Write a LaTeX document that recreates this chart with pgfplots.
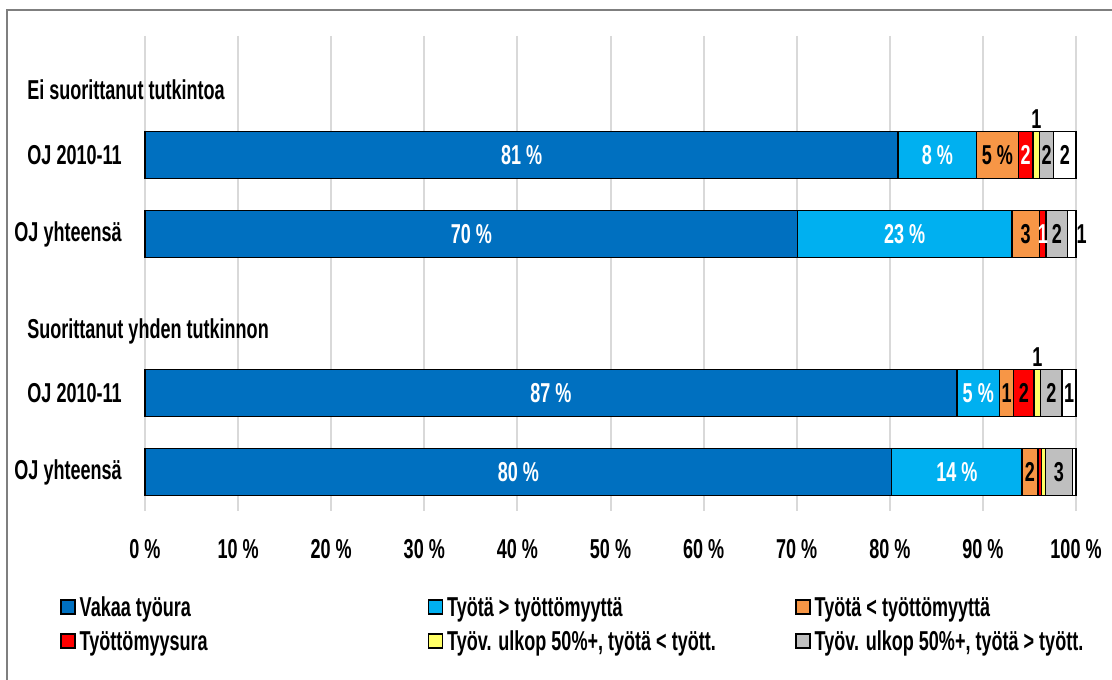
\documentclass[border=0pt]{standalone}
\usepackage{fontspec}
\setmainfont{Liberation Sans}[FakeStretch=0.66]
\usepackage{pgfplots}
\usepackage{pgfplotstable}
\pgfplotsset{compat=1.18}
\definecolor{cDB}{HTML}{0070C0}
\definecolor{cLB}{HTML}{00B0F0}
\definecolor{cOR}{HTML}{F79646}
\definecolor{cRD}{HTML}{FF0000}
\definecolor{cYE}{HTML}{FFFF66}
\definecolor{cGR}{HTML}{BFBFBF}
\definecolor{gridc}{HTML}{D9D9D9}
\definecolor{framec}{HTML}{7F7F7F}
\newcommand\chartfont{\fontsize{20.5pt}{24pt}\selectfont\bfseries}

\pgfplotstableread{
y vak ylt alt tu ye gr wh
155 80.9 8.4 4.5 1.6 0.7 1.5 2.4
234 70.1 23.0 3.0 0.7 0.0 2.3 0.9
393 87.2 4.6 1.5 2.2 0.7 2.3 1.5
472 80.2 14.0 1.7 0.4 0.4 2.9 0.4
}\data

\pgfplotstableread[col sep=comma,row sep=\\]{
x,y,label\\
40.45,155,81 \%\\
85.1,155,8 \%\\
94.6,155,2\\
35.05,234,70 \%\\
81.6,234,23 \%\\
96.45,234,1\\
43.6,393,87 \%\\
89.5,393,5 \%\\
40.1,472,80 \%\\
87.2,472,14 \%\\
}\wlab

\pgfplotstableread[col sep=comma,row sep=\\]{
x,y,label\\
91.55,155,5 \%\\
95.75,119,1\\
96.85,155,2\\
98.8,155,2\\
94.6,234,3\\
97.95,234,2\\
100.6,234,1\\
92.55,393,1\\
94.4,393,2\\
95.85,357,1\\
97.35,393,2\\
99.25,393,1\\
95.05,472,2\\
98.15,472,3\\
}\blab

\begin{document}
\begin{tikzpicture}[x=0.75pt,y=0.75pt]
\path[use as bounding box] (0,0) rectangle (1112,680);
\draw[color=framec, line width=1.5pt] (7,0) -- (7,670) -- (1112,670);
\pgfplotsset{common/.style={scale only axis, width=698.25pt, height=356.25pt,
  at={(108.75pt,126.75pt)}, anchor=south west, xmin=0, xmax=100, ymin=36, ymax=511,
  y dir=reverse, clip=false}}
\begin{axis}[common, xbar stacked, bar width=47,
  axis line style={draw=none}, major tick length=0pt,
  xtick={0,10,...,100}, xmajorgrids, grid style={color=gridc, line width=1.5pt},
  xticklabel={\pgfmathprintnumber{\tick} \%},
  ytick={155,234,393,472},
  yticklabels={OJ 2010-11, OJ yhteensä, OJ 2010-11, OJ yhteensä},
  tick label style={font=\chartfont},
  /pgf/number format/assume math mode=true,
  xticklabel style={inner sep=0pt, anchor=north, yshift=-21pt},
  yticklabel style={inner sep=0pt, anchor=east, xshift=-17.25pt},
  legend columns=3, legend cell align=left,
  legend style={at={(axis description cs:-0.0913,-0.181)}, anchor=north west,
    draw=none, fill=none, inner sep=0pt, column sep=3pt, row sep=11pt,
    font=\chartfont,
    nodes={inner sep=0pt, text width=258pt, align=left, text height=14.5pt, text depth=0pt, anchor=west,
      execute at begin node={\raggedright\spaceskip=0pt\xspaceskip=0pt}}},
  legend image code/.code={\draw[#1, line width=1.1pt] (0pt,-5.25pt) rectangle (10.5pt,5.25pt);},
  every axis plot/.append style={draw=black, line width=1.1pt}
]
\addplot[fill=cDB] table[x=vak, y=y] {\data};
\addlegendentry{Vakaa työura}
\addplot[fill=cLB] table[x=ylt, y=y] {\data};
\addlegendentry{Työtä > työttömyyttä}
\addplot[fill=cOR] table[x=alt, y=y] {\data};
\addlegendentry{Työtä < työttömyyttä}
\addplot[fill=cRD] table[x=tu, y=y] {\data};
\addlegendentry{Työttömyysura}
\addplot[fill=cYE] table[x=ye, y=y] {\data};
\addlegendentry{Työv. ulkop 50\%+, työtä < tyött.}
\addplot[fill=cGR] table[x=gr, y=y] {\data};
\addlegendentry{Työv. ulkop 50\%+, työtä > tyött.}
\addplot[fill=white] table[x=wh, y=y] {\data};
\end{axis}
\begin{axis}[common, hide axis]
\addplot[draw=none, mark=none, nodes near coords, point meta=explicit symbolic,
  every node near coord/.append style={anchor=center, text=white, font=\chartfont, inner sep=0pt}]
  table[x=x, y=y, meta=label] {\wlab};
\addplot[draw=none, mark=none, nodes near coords, point meta=explicit symbolic,
  every node near coord/.append style={anchor=center, text=black, font=\chartfont, inner sep=0pt}]
  table[x=x, y=y, meta=label] {\blab};
\end{axis}
\node[anchor=base west, inner sep=0pt, font=\chartfont] at (27,580) {Ei suorittanut tutkintoa};
\node[anchor=base west, inner sep=0pt, font=\chartfont] at (27,341) {Suorittanut yhden tutkinnon};
\end{tikzpicture}
\end{document}
